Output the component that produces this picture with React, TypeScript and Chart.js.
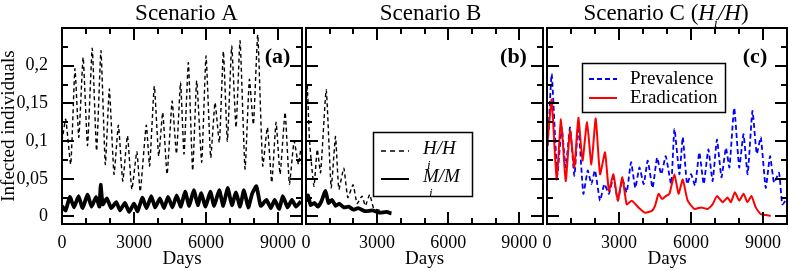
import React, { useEffect, useRef } from "react";
import { Chart, registerables } from "chart.js";
Chart.register(...registerables);

const FONT = "'Liberation Serif', 'Times New Roman', serif";
const WIDTH = 789;
const HEIGHT = 271;

const xTickValues = [0, 3000, 6000, 9000];
const xTickLabels = ["0", "3000", "6000", "9000"];
const xMinorTicks = [1000, 2000, 4000, 5000, 7000, 8000];
const yTickValues = [0, 0.05, 0.1, 0.15, 0.2];
const yTickLabels = ["0", "0,05", "0,1", "0,15", "0,2"];
const yMinorTicks = [0.025, 0.075, 0.125, 0.175, 0.225];

// Scenario A: [day, fraction]
const scenarioA_H: [number, number][] = [
  [0, 0.1], [154, 0.129], [364, 0.069], [540, 0.196], [700, 0.105], [880, 0.211], [1063, 0.094],
  [1259, 0.223], [1441, 0.087], [1623, 0.22], [1805, 0.069], [1973, 0.169], [2168, 0.056],
  [2350, 0.121], [2532, 0.047], [2728, 0.107], [2910, 0.036], [3120, 0.086], [3260, 0.033],
  [3511, 0.121], [3651, 0.067], [3847, 0.173], [4029, 0.08], [4197, 0.138], [4379, 0.056],
  [4589, 0.153], [4770, 0.083], [4939, 0.178], [5084, 0.083], [5265, 0.204], [5445, 0.061],
  [5612, 0.18], [5820, 0.072], [6001, 0.213], [6196, 0.078], [6376, 0.151], [6557, 0.098],
  [6724, 0.219], [6891, 0.1], [7071, 0.226], [7252, 0.118], [7419, 0.233], [7627, 0.063],
  [7808, 0.182], [7975, 0.122], [8156, 0.241], [8364, 0.067], [8559, 0.118], [8740, 0.045],
  [8920, 0.125], [9087, 0.056], [9296, 0.138], [9476, 0.043], [9671, 0.1], [9852, 0.069],
  [9950, 0.09],
];
const scenarioA_M: [number, number][] = [
  [0, 0.014], [150, 0.008], [330, 0.026], [500, 0.012], [690, 0.027], [860, 0.011], [1060, 0.029],
  [1230, 0.013], [1420, 0.026], [1560, 0.013], [1610, 0.042], [1700, 0.016], [1870, 0.024],
  [2050, 0.011], [2260, 0.019], [2420, 0.008], [2620, 0.018], [2800, 0.006], [3000, 0.017],
  [3150, 0.007], [3350, 0.025], [3520, 0.011], [3720, 0.027], [3880, 0.012], [4080, 0.024],
  [4250, 0.011], [4420, 0.026], [4600, 0.012], [4780, 0.028], [4950, 0.013], [5130, 0.033],
  [5300, 0.014], [5490, 0.035], [5660, 0.015], [5800, 0.031], [5980, 0.013], [6180, 0.033],
  [6340, 0.014], [6550, 0.035], [6720, 0.014], [6900, 0.038], [7080, 0.015], [7250, 0.032],
  [7420, 0.013], [7580, 0.035], [7760, 0.012], [7920, 0.03], [8100, 0.04], [8280, 0.014],
  [8520, 0.022], [8700, 0.011], [8860, 0.022], [9050, 0.01], [9200, 0.027], [9400, 0.012],
  [9580, 0.022], [9750, 0.013], [9950, 0.02],
];

// Scenario B
const scenarioB_H: [number, number][] = [
  [0, 0.12], [50, 0.175], [150, 0.1], [336, 0.04], [475, 0.089], [615, 0.058], [853, 0.168],
  [1063, 0.038], [1245, 0.106], [1385, 0.036], [1595, 0.064], [1763, 0.025], [1987, 0.042],
  [2155, 0.017], [2365, 0.027], [2505, 0.014], [2686, 0.029], [2854, 0.011], [3100, 0.008],
  [3350, 0.005], [3600, 0.003],
];
const scenarioB_M: [number, number][] = [
  [0, 0.02], [80, 0.028], [200, 0.015], [350, 0.018], [500, 0.013], [650, 0.02], [820, 0.034],
  [950, 0.018], [1100, 0.022], [1250, 0.014], [1400, 0.017], [1600, 0.012], [1800, 0.013],
  [2000, 0.009], [2200, 0.011], [2500, 0.007], [2800, 0.008], [3100, 0.005], [3400, 0.006],
  [3600, 0.004],
];

// Scenario C
const scenarioC_prevalence: [number, number][] = [
  [0, 0.083], [60, 0.11], [195, 0.189], [430, 0.056], [612, 0.118], [778, 0.065], [960, 0.118],
  [1140, 0.054], [1306, 0.12], [1515, 0.03], [1696, 0.061], [1850, 0.043], [2000, 0.061],
  [2210, 0.021], [2390, 0.043], [2580, 0.03], [2766, 0.052], [2950, 0.021], [3141, 0.049],
  [3320, 0.032], [3503, 0.072], [3680, 0.038], [3850, 0.065], [4030, 0.043], [4198, 0.074],
  [4400, 0.038], [4587, 0.078], [4760, 0.056], [4948, 0.08], [5173, 0.043], [5311, 0.116],
  [5518, 0.056], [5657, 0.105], [5836, 0.043], [6002, 0.056], [6170, 0.041], [6348, 0.085],
  [6530, 0.043], [6722, 0.089], [6900, 0.047], [7081, 0.102], [7270, 0.052], [7455, 0.091],
  [7600, 0.065], [7800, 0.144], [8010, 0.065], [8188, 0.109], [8360, 0.056], [8561, 0.14],
  [8740, 0.083], [8907, 0.105], [9114, 0.038], [9294, 0.08], [9460, 0.045], [9667, 0.058],
  [9806, 0.016], [9985, 0.023],
];
const scenarioC_eradication: [number, number][] = [
  [0, 0.09], [80, 0.12], [195, 0.155], [403, 0.049], [584, 0.129], [778, 0.047], [960, 0.114],
  [1140, 0.065], [1306, 0.131], [1480, 0.074], [1668, 0.125], [1850, 0.069], [2030, 0.13],
  [2210, 0.056], [2419, 0.085], [2580, 0.034], [2766, 0.056], [2950, 0.021], [3141, 0.052],
  [3320, 0.016], [3530, 0.021], [3810, 0.012], [4090, 0.005], [4370, 0.0075], [4500, 0.014],
  [4650, 0.03], [4800, 0.023], [4950, 0.027], [5100, 0.03], [5311, 0.056], [5480, 0.03],
  [5657, 0.049], [5860, 0.021], [6141, 0.01], [6420, 0.012], [6700, 0.01], [6900, 0.016],
  [7081, 0.027], [7320, 0.019], [7524, 0.025], [7663, 0.019], [7828, 0.032], [8010, 0.021],
  [8188, 0.03], [8354, 0.019], [8520, 0.027], [8700, 0.012], [8907, 0.003], [9322, 0.001],
];

const toXY = (arr: [number, number][]) => arr.map(([x, y]) => ({ x, y }));

function line(data: [number, number][], color: string, width: number, dash: number[]) {
  return {
    data: toXY(data),
    borderColor: color,
    borderWidth: width,
    borderDash: dash,
    pointRadius: 0,
    fill: false,
    tension: 0.15,
  };
}

function drawRatio(
  ctx: CanvasRenderingContext2D, x: number, y: number, num: string, den: string,
  size: number, subSize: number, subDx: number, subDy: number, slashDx: number
) {
  ctx.font = `italic ${size}px ${FONT}`;
  ctx.fillText(num, x, y);
  const w = ctx.measureText(num).width;
  ctx.font = `italic ${subSize}px ${FONT}`;
  ctx.fillText("i", x + subDx, y + subDy);
  ctx.font = `italic ${size}px ${FONT}`;
  ctx.fillText("/" + den, x + w + slashDx, y);
  return x + w + slashDx + ctx.measureText("/" + den).width;
}

type Panel = {
  padLeft: number;
  padRight: number;
  showY: boolean;
  datasets: any[];
  decorate: (ctx: CanvasRenderingContext2D) => void;
};

const panels: Panel[] = [
  {
    padLeft: 0,
    padRight: WIDTH - 302,
    showY: true,
    datasets: [
      line(scenarioA_M, "#000", 3.8, []),
      line(scenarioA_H, "#000", 1.4, [4, 3]),
    ],
    decorate: (ctx) => {
      ctx.fillStyle = "#000";
      ctx.textBaseline = "alphabetic";
      ctx.textAlign = "center";
      ctx.font = `23px ${FONT}`;
      ctx.fillText("Scenario A", 186.5, 20);
      ctx.font = `bold 22px ${FONT}`;
      ctx.fillText("(a)", 277.5, 63);
    },
  },
  {
    padLeft: 306,
    padRight: WIDTH - 543,
    showY: false,
    datasets: [
      line(scenarioB_M, "#000", 3.8, []),
      line(scenarioB_H, "#000", 1.4, [4, 3]),
    ],
    decorate: (ctx) => {
      ctx.fillStyle = "#000";
      ctx.strokeStyle = "#000";
      ctx.textBaseline = "alphabetic";
      ctx.textAlign = "center";
      ctx.font = `23px ${FONT}`;
      ctx.fillText("Scenario B", 430.5, 20);
      ctx.font = `bold 22px ${FONT}`;
      ctx.fillText("(b)", 513.5, 63);
      // legend
      ctx.lineWidth = 1.5;
      ctx.setLineDash([]);
      ctx.fillStyle = "#fff";
      ctx.fillRect(373.5, 132.5, 99, 64);
      ctx.strokeRect(373.5, 132.5, 99, 64);
      ctx.fillStyle = "#000";
      ctx.lineWidth = 1.4;
      ctx.setLineDash([5, 4]);
      ctx.beginPath();
      ctx.moveTo(381, 151);
      ctx.lineTo(409, 151);
      ctx.stroke();
      ctx.setLineDash([]);
      ctx.lineWidth = 2;
      ctx.beginPath();
      ctx.moveTo(381, 179);
      ctx.lineTo(409, 179);
      ctx.stroke();
      ctx.textAlign = "left";
      drawRatio(ctx, 423, 154, "H", "H", 19, 13, 4, 15, 0);
      drawRatio(ctx, 423, 182, "M", "M", 19, 13, 6, 15, 0);
    },
  },
  {
    padLeft: 547,
    padRight: 2,
    showY: false,
    datasets: [
      line(scenarioC_eradication, "#ff0000", 2, []),
      line(scenarioC_prevalence, "#0000ff", 1.8, [5, 3]),
    ],
    decorate: (ctx) => {
      ctx.fillStyle = "#000";
      ctx.strokeStyle = "#000";
      ctx.textBaseline = "alphabetic";
      ctx.textAlign = "left";
      // title with italic ratio
      ctx.font = `23px ${FONT}`;
      const t1 = "Scenario C (";
      const w1 = ctx.measureText(t1).width;
      const wClose = ctx.measureText(")").width;
      ctx.font = `italic 23px ${FONT}`;
      const wH = ctx.measureText("H").width;
      const wSH = ctx.measureText("/H").width;
      const total = w1 + wH + 3 + wSH + wClose;
      let x = 666 - total / 2;
      ctx.font = `23px ${FONT}`;
      ctx.fillText(t1, x, 20);
      x += w1;
      x = drawRatio(ctx, x, 20, "H", "H", 23, 13, wH - 1, 7, 3);
      ctx.font = `23px ${FONT}`;
      ctx.fillText(")", x, 20);
      ctx.textAlign = "center";
      ctx.font = `bold 22px ${FONT}`;
      ctx.fillText("(c)", 755, 63);
      // legend
      ctx.lineWidth = 1.5;
      ctx.setLineDash([]);
      ctx.fillStyle = "#fff";
      ctx.fillRect(582.5, 63.5, 143, 49);
      ctx.strokeRect(582.5, 63.5, 143, 49);
      ctx.strokeStyle = "#0000ff";
      ctx.lineWidth = 1.8;
      ctx.setLineDash([5, 3]);
      ctx.beginPath();
      ctx.moveTo(589, 79);
      ctx.lineTo(617, 79);
      ctx.stroke();
      ctx.setLineDash([]);
      ctx.strokeStyle = "#ff0000";
      ctx.lineWidth = 2;
      ctx.beginPath();
      ctx.moveTo(589, 98);
      ctx.lineTo(617, 98);
      ctx.stroke();
      ctx.fillStyle = "#000";
      ctx.textAlign = "left";
      ctx.font = `19px ${FONT}`;
      ctx.fillText("Prevalence", 630, 84);
      ctx.fillText("Eradication", 630, 103);
    },
  },
];

function buildConfig(p: Panel): any {
  const framePlugin = {
    id: "frameTicks",
    afterDatasetsDraw(chart: any) {
      const { ctx, chartArea: a, scales } = chart;
      const xs = scales.x;
      const ys = scales.y;
      ctx.save();
      ctx.setLineDash([]);
      ctx.strokeStyle = "#000";
      ctx.lineWidth = 2;
      ctx.beginPath();
      const xt = [
        ...xTickValues.map((v) => [v, 12]),
        ...xMinorTicks.map((v) => [v, 6]),
      ];
      for (const [v, len] of xt) {
        const px = Math.round(xs.getPixelForValue(v));
        ctx.moveTo(px, a.bottom);
        ctx.lineTo(px, a.bottom - len);
        ctx.moveTo(px, a.top);
        ctx.lineTo(px, a.top + len);
      }
      const yt = [
        ...yTickValues.map((v) => [v, 12]),
        ...yMinorTicks.map((v) => [v, 6]),
      ];
      for (const [v, len] of yt) {
        const py = Math.round(ys.getPixelForValue(v));
        ctx.moveTo(a.left, py);
        ctx.lineTo(a.left + len, py);
        ctx.moveTo(a.right, py);
        ctx.lineTo(a.right - len, py);
      }
      ctx.stroke();
      ctx.strokeRect(a.left, a.top, a.right - a.left, a.bottom - a.top);
      ctx.restore();
    },
    afterDraw(chart: any) {
      const ctx = chart.ctx;
      ctx.save();
      p.decorate(ctx);
      ctx.restore();
    },
  };

  return {
    type: "line",
    data: { datasets: p.datasets },
    options: {
      responsive: false,
      animation: false,
      devicePixelRatio: 1,
      events: [],
      layout: { padding: { left: p.padLeft, right: p.padRight, top: 28, bottom: 0 } },
      plugins: {
        legend: { display: false },
        title: { display: false },
        tooltip: { enabled: false },
      },
      scales: {
        x: {
          type: "linear",
          min: 0,
          max: 10000,
          afterBuildTicks: (s: any) => {
            s.ticks = xTickValues.map((v) => ({ value: v }));
          },
          afterFit: (s: any) => {
            s.height = 47;
          },
          ticks: {
            callback: (v: number) => xTickLabels[xTickValues.indexOf(v)] ?? "",
            font: { family: FONT, size: 18 },
            color: "#000",
            padding: 0,
            maxRotation: 0,
            autoSkip: false,
          },
          grid: { display: false },
          border: { display: false },
          title: {
            display: true,
            text: "Days",
            font: { family: FONT, size: 19 },
            color: "#000",
            padding: { top: 0, bottom: 1 },
          },
        },
        y: {
          type: "linear",
          min: -0.01,
          max: 0.25,
          display: p.showY,
          afterBuildTicks: (s: any) => {
            s.ticks = yTickValues.map((v) => ({ value: v }));
          },
          afterFit: (s: any) => {
            s.width = p.showY ? 62 : 0;
          },
          ticks: {
            callback: (v: number) => yTickLabels[yTickValues.indexOf(v)] ?? "",
            font: { family: FONT, size: 18 },
            color: "#000",
            padding: 6,
          },
          grid: { display: false },
          border: { display: false },
          title: {
            display: true,
            text: "Infected individuals",
            font: { family: FONT, size: 19, lineHeight: 1 },
            color: "#000",
            padding: { top: 0, bottom: 0 },
          },
        },
      },
    },
    plugins: [framePlugin],
  };
}

export default function App() {
  const refA = useRef<HTMLCanvasElement>(null);
  const refB = useRef<HTMLCanvasElement>(null);
  const refC = useRef<HTMLCanvasElement>(null);

  useEffect(() => {
    const refs = [refA, refB, refC];
    const charts = refs.map((r, i) => new Chart(r.current as HTMLCanvasElement, buildConfig(panels[i])));
    return () => charts.forEach((c) => c.destroy());
  }, []);

  return (
    <div
      style={{
        position: "absolute",
        left: 0,
        top: 0,
        width: WIDTH,
        height: HEIGHT,
        background: "#fff",
        overflow: "hidden",
      }}
    >
      {[refA, refB, refC].map((r, i) => (
        <canvas
          key={i}
          ref={r}
          width={WIDTH}
          height={HEIGHT}
          style={{ position: "absolute", left: 0, top: 0, width: WIDTH, height: HEIGHT }}
        />
      ))}
    </div>
  );
}
